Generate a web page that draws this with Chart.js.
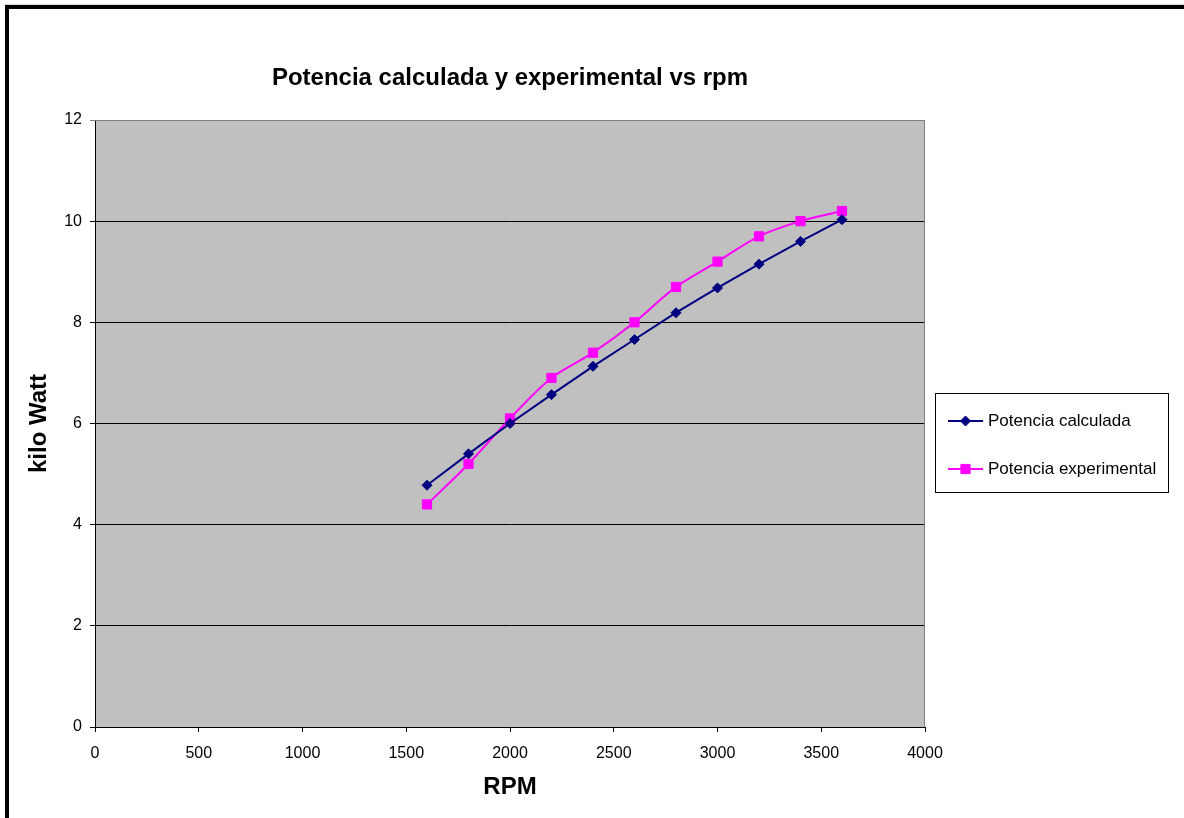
<!DOCTYPE html>
<html>
<head>
<meta charset="utf-8">
<title>Potencia calculada y experimental vs rpm</title>
<script src="https://cdn.jsdelivr.net/npm/chart.js@4.4.1/dist/chart.umd.min.js"></script>
<style>
    html, body { margin: 0; padding: 0; background: #fff; }
    .chart-box { width: 1184px; height: 818px; position: relative; }
</style>
</head>
<body>
<div class="chart-box">
    <canvas id="potenciaChart"></canvas>
</div>
<script>
// Datos del ensayo
const rpm = [1600, 1800, 2000, 2200, 2400, 2600, 2800, 3000, 3200, 3400, 3600];
const potenciaCalculada = [4.78, 5.40, 6.00, 6.57, 7.13, 7.66, 8.19, 8.68, 9.15, 9.60, 10.03];
const potenciaExperimental = [4.4, 5.2, 6.1, 6.9, 7.4, 8.0, 8.7, 9.2, 9.7, 10.0, 10.2];
const xTicks = [0, 500, 1000, 1500, 2000, 2500, 3000, 3500, 4000];
const yTicks = [0, 2, 4, 6, 8, 10, 12];

const FONT = 'Arial, "Liberation Sans", sans-serif';

function toPoints(xs, ys) {
    return xs.map((x, i) => ({ x: x, y: ys[i] }));
}

// Fondo gris del area de trazado, marco exterior y leyenda
const chartFrame = {
    id: 'chartFrame',
    beforeDraw(chart) {
        const { ctx, chartArea: a } = chart;
        ctx.save();
        ctx.fillStyle = '#fff';
        ctx.fillRect(0, 0, chart.width, chart.height);
        ctx.fillStyle = '#C0C0C0';
        ctx.fillRect(a.left, a.top, a.right - a.left, a.bottom - a.top);
        // marco negro (solo visible arriba y a la izquierda)
        ctx.fillStyle = '#d8d8d8';
        ctx.fillRect(5, 4, chart.width, 1);
        ctx.fillStyle = '#000';
        ctx.fillRect(5, 5, chart.width, 4);
        ctx.fillRect(5, 5, 4, chart.height);
        ctx.restore();
    },
    beforeDatasetsDraw(chart) {
        const { ctx, chartArea: a } = chart;
        ctx.save();
        ctx.strokeStyle = '#808080';
        ctx.lineWidth = 1;
        ctx.beginPath();
        ctx.moveTo(a.left, a.top + 0.5);
        ctx.lineTo(a.right - 0.5, a.top + 0.5);
        ctx.lineTo(a.right - 0.5, a.bottom);
        ctx.stroke();
        ctx.restore();
    },
    afterDraw(chart) {
        const ctx = chart.ctx;
        const box = { x: 935.5, y: 393.5, w: 233, h: 99 };
        ctx.save();
        ctx.fillStyle = '#fff';
        ctx.fillRect(box.x, box.y, box.w, box.h);
        ctx.strokeStyle = '#000';
        ctx.lineWidth = 1;
        ctx.strokeRect(box.x, box.y, box.w, box.h);
        chart.data.datasets.forEach((ds, i) => {
            const y = 421 + i * 48;
            ctx.strokeStyle = ds.borderColor;
            ctx.lineWidth = 2;
            ctx.beginPath();
            ctx.moveTo(948, y);
            ctx.lineTo(983, y);
            ctx.stroke();
            ctx.fillStyle = ds.pointBackgroundColor;
            ctx.lineWidth = 1;
            Chart.helpers.drawPoint(ctx, {
                pointStyle: ds.pointStyle,
                radius: ds.pointRadius,
                borderWidth: 1,
                rotation: 0
            }, 965.5, y);
            ctx.fillStyle = '#000';
            ctx.font = '17px ' + FONT;
            ctx.textAlign = 'left';
            ctx.textBaseline = 'middle';
            ctx.fillText(ds.label, 988, y);
        });
        ctx.restore();
    }
};

const ctx = document.getElementById('potenciaChart').getContext('2d');
const potenciaChart = new Chart(ctx, {
    type: 'line',
    data: {
        datasets: [{
            label: 'Potencia calculada',
            data: toPoints(rpm, potenciaCalculada),
            borderColor: '#000080',
            backgroundColor: '#000080',
            pointBackgroundColor: '#000080',
            pointBorderColor: '#000080',
            pointStyle: 'rectRot',
            pointRadius: 5,
            pointBorderWidth: 1,
            borderWidth: 2,
            tension: 0
        }, {
            label: 'Potencia experimental',
            data: toPoints(rpm, potenciaExperimental),
            borderColor: '#FF00FF',
            backgroundColor: '#FF00FF',
            pointBackgroundColor: '#FF00FF',
            pointBorderColor: '#FF00FF',
            pointStyle: 'rect',
            pointRadius: 6.5,
            pointBorderWidth: 1,
            borderWidth: 2,
            tension: 0.33
        }]
    },
    options: {
        responsive: true,
        maintainAspectRatio: false,
        animation: false,
        layout: {
            padding: { left: 12, right: 259, top: 0, bottom: 6 }
        },
        plugins: {
            legend: { display: false },
            tooltip: { enabled: false },
            title: {
                display: true,
                fullSize: false,
                text: 'Potencia calculada y experimental vs rpm',
                color: '#000',
                font: { family: FONT, size: 24, weight: 'bold' },
                padding: { top: 64, bottom: 27.2 }
            }
        },
        scales: {
            x: {
                type: 'linear',
                min: 0,
                max: 4000,
                afterBuildTicks(scale) {
                    scale.ticks = xTicks.map(v => ({ value: v }));
                },
                afterFit(scale) {
                    scale.height = 85;
                },
                border: { color: '#000', width: 1 },
                grid: {
                    drawOnChartArea: false,
                    drawTicks: true,
                    tickLength: 5,
                    color: '#000'
                },
                ticks: {
                    color: '#000',
                    padding: 12,
                    maxRotation: 0,
                    font: { family: FONT, size: 16 },
                    callback: value => String(value)
                },
                title: {
                    display: true,
                    text: 'RPM',
                    color: '#000',
                    font: { family: FONT, size: 24, weight: 'bold' },
                    padding: { top: 0, bottom: 10.6 }
                }
            },
            y: {
                min: 0,
                max: 12,
                afterBuildTicks(scale) {
                    scale.ticks = yTicks.map(v => ({ value: v }));
                },
                afterFit(scale) {
                    scale.width = 95 - 12;
                },
                border: { color: '#000', width: 1 },
                grid: {
                    drawTicks: true,
                    tickLength: 5,
                    color: c => (c.tick && c.tick.value === 12) ? '#808080' : '#000'
                },
                ticks: {
                    color: '#000',
                    padding: 8,
                    font: { family: FONT, size: 16 },
                    callback: value => String(value)
                },
                title: {
                    display: true,
                    text: 'kilo Watt',
                    color: '#000',
                    font: { family: FONT, size: 24, weight: 'bold' },
                    padding: { top: 13, bottom: 0 }
                }
            }
        }
    },
    plugins: [chartFrame]
});
</script>
</body>
</html>
